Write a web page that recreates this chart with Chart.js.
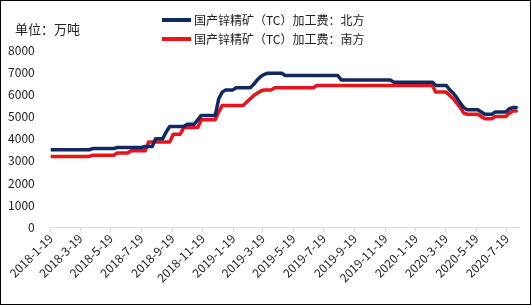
<!DOCTYPE html>
<html>
<head>
<meta charset="utf-8">
<script src="https://cdn.jsdelivr.net/npm/chart.js@4/dist/chart.umd.min.js"></script>
<style>
  html, body { margin: 0; padding: 0; background: #fff; }
  #wrap { width: 531px; height: 305px; position: relative; }
</style>
</head>
<body>
<div id="wrap"><canvas id="c" width="531" height="305"></canvas></div>
<script>
// ---- data (weekly, every Friday starting 2018-1-19) ----
const firstDate = '2018-01-19';
const unitLabel = '单位：万吨';
const seriesNames = ['国产锌精矿（TC）加工费：北方', '国产锌精矿（TC）加工费：南方'];
const tickLabels = ['2018-1-19','2018-3-19','2018-5-19','2018-7-19','2018-9-19','2018-11-19',
  '2019-1-19','2019-3-19','2019-5-19','2019-7-19','2019-9-19','2019-11-19',
  '2020-1-19','2020-3-19','2020-5-19','2020-7-19'];
const axisEndDate = '2020-08-13';

const north = [
  3500,3500,3500,3500,3500,3500,3500,3500,3500,3500,3500,3500,
  3550,3550,3550,3550,3550,3550,3550,
  3600,3600,3600,3600,3600,3600,3600,3600,
  3650,3650,3650,
  4000,4000,4000,
  4300,
  4550,4550,4550,4550,4550,
  4650,4650,4650,
  4850,
  5050,5050,5050,5050,5050,
  5800,6100,6200,6200,6200,
  6300,6300,6300,6300,6300,
  6450,6650,6800,6900,
  6950,6950,6950,6950,6950,
  6850,6850,6850,6850,6850,6850,6850,6850,6850,6850,6850,6850,6850,6850,6850,6850,
  6650,6650,6650,6650,6650,6650,6650,6650,6650,6650,6650,6650,6650,6650,6650,
  6550,6550,6550,6550,6550,6550,6550,6550,6550,6550,6550,6550,
  6400,6400,6400,6400,
  6200,6050,5850,5600,5400,
  5300,5300,5300,5300,
  5200,5100,5100,5100,
  5200,5200,5200,5200,
  5350,5400,5400
];
const south = [
  3200,3200,3200,3200,3200,3200,3200,3200,3200,3200,3200,3200,
  3250,3250,3250,3250,3250,3250,3250,
  3350,3350,3350,3350,
  3450,3450,3450,3450,3450,
  3850,3850,3850,3850,3850,3850,3850,
  4200,4200,4200,
  4500,4500,4500,4500,4500,
  4850,4850,4850,4850,4850,
  5200,
  5500,5500,5500,5500,5500,5500,5500,
  5650,5800,5950,6050,6150,
  6200,6200,6200,
  6300,6300,6300,6300,6300,6300,6300,6300,6300,6300,6300,6300,
  6400,6400,6400,6400,6400,6400,6400,6400,6400,6400,6400,6400,6400,6400,6400,6400,6400,
  6400,6400,6400,6400,6400,6400,6400,6400,6400,6400,6400,6400,6400,6400,6400,6400,6400,
  6100,6100,6100,6100,
  5950,5800,5600,5400,5150,
  5100,5100,5100,5100,
  5000,4900,4900,4900,
  5000,5000,5000,5000,
  5150,5250,5250
];

// ---- helpers ----
function dayOf(s) {
  const p = s.split('-').map(Number);
  const f = firstDate.split('-').map(Number);
  return Math.round((Date.UTC(p[0], p[1]-1, p[2]) - Date.UTC(f[0], f[1]-1, f[2])) / 86400000);
}
const tickDays = tickLabels.map(dayOf);
const toPoints = arr => arr.map((v, i) => ({ x: i * 7, y: v }));

const FONT = "'Noto Sans CJK SC', 'Noto Sans', sans-serif";
const colors = ['#0f2a63', '#e8131b'];

const decor = {
  id: 'decor',
  afterDraw(chart) {
    const ctx = chart.ctx;
    ctx.save();
    // unit label
    ctx.fillStyle = '#222';
    ctx.font = '13px ' + FONT;
    ctx.textBaseline = 'middle';
    ctx.textAlign = 'left';
    ctx.fillText(unitLabel, 15, 29);
    // legend
    const rows = [20, 39];
    chart.data.datasets.forEach((ds, i) => {
      ctx.strokeStyle = ds.borderColor;
      ctx.lineWidth = 4;
      ctx.beginPath();
      ctx.moveTo(162, rows[i]);
      ctx.lineTo(191, rows[i]);
      ctx.stroke();
      ctx.fillStyle = '#222';
      ctx.font = '12px ' + FONT;
      ctx.fillText(ds.label, 194, rows[i]);
    });
    // outer border
    ctx.strokeStyle = '#000';
    ctx.lineWidth = 1;
    ctx.strokeRect(0.5, 0.5, 530, 304);
    ctx.restore();
  }
};

new Chart(document.getElementById('c'), {
  type: 'line',
  data: {
    datasets: [
      { label: seriesNames[0], data: toPoints(north), borderColor: colors[0], backgroundColor: colors[0] },
      { label: seriesNames[1], data: toPoints(south), borderColor: colors[1], backgroundColor: colors[1] }
    ]
  },
  options: {
    responsive: false,
    animation: false,
    events: [],
    layout: { padding: { top: 50, right: 11.7, left: 0, bottom: 0 } },
    elements: {
      line: { borderWidth: 3.5, tension: 0, borderJoinStyle: 'round', borderCapStyle: 'round' },
      point: { radius: 0 }
    },
    plugins: { legend: { display: false }, title: { display: false }, tooltip: { enabled: false } },
    scales: {
      x: {
        type: 'linear',
        min: 0,
        max: dayOf(axisEndDate),
        afterBuildTicks: s => { s.ticks = tickDays.map(v => ({ value: v })); },
        afterFit: s => { s.height = 77.7; },
        ticks: {
          autoSkip: false,
          minRotation: 45,
          maxRotation: 45,
          color: '#222',
          font: { family: FONT, size: 12 },
          padding: 0,
          callback: v => { const k = tickDays.indexOf(v); return k >= 0 ? tickLabels[k] : ''; }
        },
        grid: { display: true, drawOnChartArea: false, drawTicks: true, tickLength: 4, color: '#d9d9d9' },
        border: { display: true, color: '#d9d9d9', width: 1 }
      },
      y: {
        min: 0,
        max: 8000,
        afterFit: s => { s.width = 50.7; },
        ticks: {
          stepSize: 1000,
          color: '#222',
          font: { family: FONT, size: 12 },
          padding: 8,
          callback: v => String(v)
        },
        grid: { display: false },
        border: { display: false }
      }
    }
  },
  plugins: [decor]
});
</script>
</body>
</html>
